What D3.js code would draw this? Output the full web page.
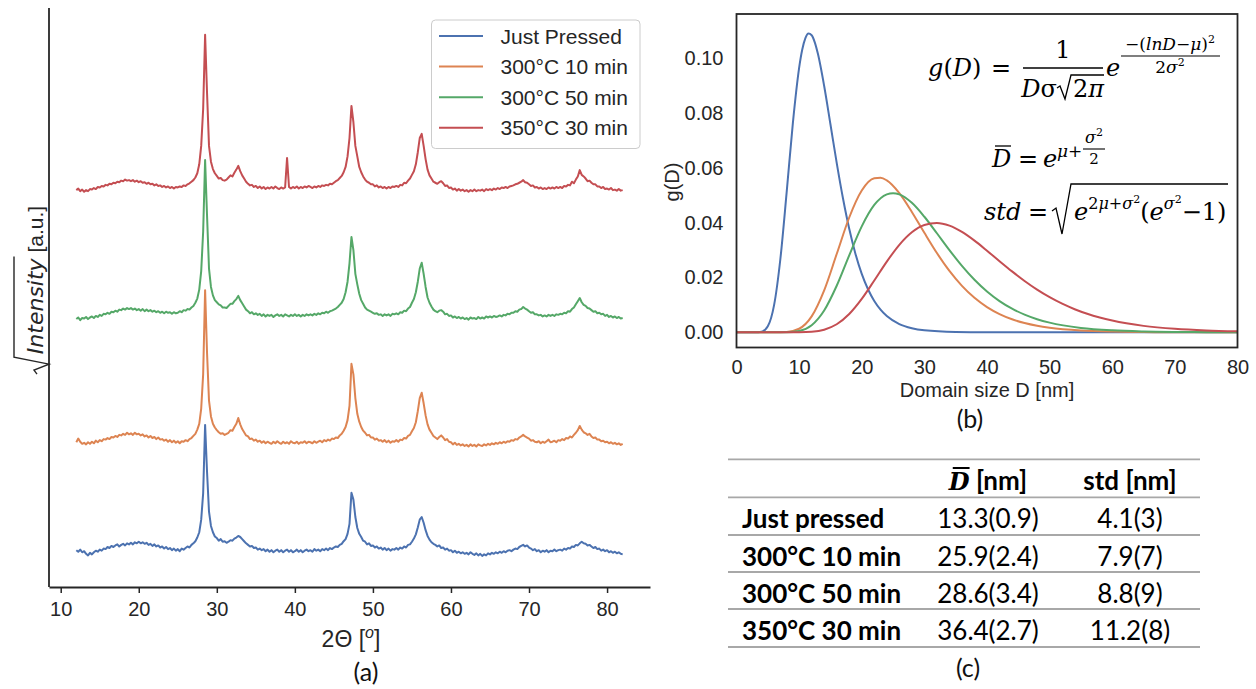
<!DOCTYPE html>
<html><head><meta charset="utf-8">
<script src="https://cdn.jsdelivr.net/npm/d3@7"></script>
<style>body{margin:0;background:#fff}svg{display:block}</style>
</head><body>
<svg id="fig" width="1256" height="689"></svg>
<script>
// ---------------- DATA ----------------
const seriesNames = ["Just Pressed", "300°C 10 min", "300°C 50 min", "350°C 30 min"];
// XRD traces: sqrt(intensity) relative to each trace's baseline, sampled from 12° to 82° every 0.25°
const thetaStart = 12, thetaStep = 0.25;
const offsets = [6.8, 27.4, 51.5, 75.8];
const xrdJustPressed = [
0.2,-0.1,0.3,-0.2, 0.0,-0.5,-0.8,-0.3, -0.6,-0.2,0.1,-0.1, 0.3,0.1,0.5,0.4, 0.8,0.6,1.0,0.8,
1.1,1.3,0.9,1.2, 1.4,1.1,1.5,1.3, 1.6,1.3,1.7,1.5, 1.8,1.5,1.7,1.4, 1.6,1.2,1.4,1.0,
1.3,0.9,1.1,0.7, 0.9,0.5,0.8,0.4, 0.6,0.2,0.5,0.1, 0.4,0.0,0.5,0.3, 0.6,0.9,0.7,1.2,
1.5,1.9,2.6,3.6, 6.0,11.0,24.0,15.0, 7.5,4.8,3.6,2.8, 2.5,2.0,2.3,1.8, 1.9,1.6,1.8,2.1,
2.0,2.4,2.6,2.9, 2.7,2.3,1.9,1.5, 1.2,0.9,1.0,0.6, 0.7,0.3,0.5,0.2, 0.4,0.0,0.3,-0.1,
0.2,-0.2,0.1,0.3, -0.1,0.2,-0.2,0.1, 0.3,-0.1,0.2,-0.2, 0.0,0.3,-0.1,0.2, -0.2,0.1,0.3,0.0,
0.2,-0.1,0.4,0.1, 0.3,0.0,0.4,0.2, 0.5,0.2,0.6,0.4, 0.7,0.9,0.8,1.2, 1.4,1.9,2.3,3.3,
5.2,11.1,9.8,6.5, 4.4,3.3,2.7,2.0, 1.8,1.3,1.5,1.0, 1.1,0.7,0.9,0.5, 0.7,0.3,0.6,0.2,
0.5,0.1,0.4,0.3, 0.6,0.3,0.7,0.5, 0.9,0.7,1.2,1.3, 1.8,2.4,3.2,4.5, 6.0,6.5,5.4,4.0,
2.9,2.2,1.7,1.4, 1.2,0.9,1.1,0.6, 0.7,0.3,0.5,0.1, 0.2,-0.2,0.1,-0.3, -0.1,-0.4,-0.2,-0.5,
-0.3,-0.6,-0.2,-0.5, -0.7,-0.4,-0.8,-0.5, -0.9,-0.6,-0.8,-0.4, -0.6,-0.3,-0.5,-0.2, -0.4,-0.1,-0.3,0.0,
-0.2,0.1,0.2,0.0, 0.3,0.5,0.4,0.8, 1.0,1.2,0.9,1.1, 0.7,0.5,0.2,0.4, 0.0,0.2,-0.2,0.1,
-0.1,0.2,-0.2,0.1, 0.0,0.3,0.0,0.2, 0.3,0.1,0.5,0.3, 0.6,0.5,0.9,0.8, 1.2,1.1,1.5,1.8,
1.5,1.4,1.1,1.2, 0.9,0.6,0.8,0.4, 0.5,0.1,0.3,0.0, 0.2,-0.2,0.0,-0.3, -0.1,-0.4,-0.2,-0.5,
-0.6];
const xrd300C10 = [
0.1,0.8,0.2,-0.2, 0.0,-0.3,0.1,-0.2, 0.2,-0.1,0.4,0.1, 0.5,0.3,0.7,0.6, 0.9,0.7,1.1,1.0,
1.3,1.1,1.5,1.4, 1.7,1.5,1.9,1.6, 1.8,1.5,1.9,1.6, 1.7,1.4,1.6,1.2, 1.4,1.0,1.3,0.9,
1.1,0.7,1.0,0.6, 0.7,0.4,0.6,0.2, 0.5,0.1,0.4,0.0, 0.3,-0.1,0.3,0.2, 0.5,0.3,0.7,0.9,
1.3,1.7,2.5,3.6, 6.5,13.0,29.0,17.0, 8.0,5.0,3.6,2.9, 2.4,2.0,1.7,1.8, 1.5,1.7,1.9,2.4,
2.3,3.0,3.6,4.7, 3.5,2.6,2.0,1.4, 1.2,0.7,0.8,0.4, 0.6,0.2,0.4,0.0, 0.3,-0.1,0.2,0.0,
-0.2,0.2,-0.1,0.3, 0.0,-0.2,0.2,-0.1, 0.1,-0.2,0.3,0.0, -0.1,0.2,-0.2,0.1, 0.0,0.3,-0.1,0.2,
0.1,-0.1,0.3,0.0, 0.2,0.4,0.1,0.5, 0.3,0.6,0.4,0.8, 0.7,1.0,0.9,1.4, 1.7,2.3,3.0,4.3,
7.0,15.0,13.0,8.5, 5.5,4.0,3.0,2.3, 1.9,1.4,1.5,1.0, 1.0,0.6,0.8,0.4, 0.5,0.2,0.5,0.1,
0.4,0.0,0.3,0.2, 0.5,0.2,0.6,0.5, 0.9,0.8,1.3,1.5, 2.2,2.8,3.9,6.0, 8.5,9.5,7.5,5.2,
3.5,2.5,1.9,1.3, 1.0,0.7,1.1,1.4, 1.0,0.5,0.7,0.2, 0.1,-0.3,0.0,-0.4, -0.2,-0.5,-0.3,-0.6,
-0.4,-0.7,-0.3,-0.6, -0.4,-0.7,-0.3,-0.5, -0.6,-0.3,-0.5,-0.2, -0.4,-0.1,-0.3,0.0, -0.2,0.1,-0.1,0.2,
0.0,0.3,0.2,0.5, 0.4,0.7,0.6,1.0, 1.2,1.5,1.2,1.0, 0.8,0.4,0.5,0.2, 0.1,0.3,-0.1,0.2,
0.0,0.3,0.6,0.1, 0.2,0.4,0.1,0.5, 0.4,0.7,0.5,0.9, 0.8,1.2,1.0,1.5, 1.9,2.4,3.2,2.5,
2.0,1.8,1.5,1.7, 1.2,0.9,1.0,0.6, 0.6,0.3,0.4,0.1, 0.2,-0.1,0.1,-0.2, 0.0,-0.3,-0.1,-0.4,
-0.2];
const xrd300C50 = [
-0.6,-0.3,-0.8,-0.4, -0.5,-0.2,-0.6,-0.3, -0.1,-0.4,0.0,-0.2, 0.2,0.0,0.4,0.3, 0.6,0.4,0.8,0.7,
1.0,0.8,1.2,1.1, 1.4,1.2,1.5,1.3, 1.5,1.2,1.4,1.1, 1.3,1.0,1.3,0.9, 1.2,0.9,1.1,0.8,
1.0,0.7,0.9,0.6, 0.8,0.5,0.8,0.6, 0.7,0.4,0.7,0.5, 0.6,0.9,0.7,1.1, 1.0,1.3,1.2,1.6,
1.9,2.5,3.3,5.0, 8.5,16.0,29.6,19.0, 9.0,5.5,3.9,3.0, 2.6,2.2,2.0,1.6, 1.6,1.5,1.9,2.3,
2.3,2.8,3.2,3.8, 3.0,2.4,1.8,1.2, 0.9,0.5,0.7,0.3, 0.5,0.2,0.4,0.0, 0.3,-0.1,0.2,0.0,
0.2,-0.2,0.1,0.3, 0.0,0.2,-0.1,0.3, 0.1,-0.1,0.2,0.0, 0.3,0.0,0.2,-0.1, 0.2,0.0,0.3,0.1,
0.3,0.1,0.4,0.2, 0.5,0.3,0.6,0.5, 0.8,0.6,0.9,1.0, 1.2,1.4,1.7,2.1, 2.5,3.2,4.5,6.5,
10.0,15.0,12.5,8.0, 6.0,4.2,3.0,2.3, 1.6,1.2,1.0,0.8, 0.6,0.4,0.5,0.2, 0.3,0.0,0.3,0.1,
0.3,0.0,0.4,0.3, 0.5,0.3,0.7,0.6, 1.0,0.9,1.4,1.7, 2.5,3.2,4.5,6.5, 9.0,10.1,8.0,5.5,
3.5,2.5,1.8,1.2, 0.9,0.7,1.0,1.1, 0.8,0.3,0.4,0.0, 0.1,-0.3,-0.1,-0.4, -0.2,-0.5,-0.3,-0.6,
-0.4,-0.7,-0.3,-0.5, -0.4,-0.6,-0.2,-0.5, -0.3,-0.5,-0.1,-0.3, -0.1,-0.3,0.0,-0.2, -0.1,0.1,-0.1,0.2,
0.1,0.4,0.3,0.6, 0.6,0.9,0.8,1.2, 1.3,1.7,1.4,1.2, 0.9,0.6,0.7,0.3, 0.3,0.1,0.2,-0.1,
0.1,-0.1,0.2,0.0, 0.2,0.0,0.3,0.2, 0.4,0.3,0.6,0.5, 0.9,0.8,1.3,1.6, 2.2,2.8,3.4,2.6,
2.1,1.9,1.5,1.4, 1.1,0.8,0.9,0.5, 0.6,0.3,0.4,0.0, 0.2,-0.2,0.0,-0.3, -0.1,-0.4,-0.2,-0.5,
-0.4];
const xrd350C30 = [
-0.4,-0.1,-0.6,-0.3, -0.7,-0.4,-0.6,-0.2, -0.3,0.0,-0.2,0.2, 0.1,0.4,0.3,0.6, 0.5,0.8,0.7,1.0,
0.9,1.2,1.1,1.4, 1.3,1.6,1.4,1.5, 1.3,1.5,1.2,1.4, 1.1,1.3,1.0,1.1, 0.8,1.0,0.7,0.8,
0.5,0.7,0.4,0.5, 0.2,0.4,0.1,0.3, 0.0,0.2,-0.1,0.2, 0.1,0.3,0.2,0.5, 0.4,0.7,0.9,1.2,
1.5,2.0,2.8,4.5, 8.0,15.0,29.1,18.0, 8.0,5.0,3.6,2.8, 2.3,1.8,1.9,1.5, 1.4,1.6,2.0,2.4,
2.2,2.9,3.5,4.2, 3.2,2.4,1.8,1.2, 0.8,0.5,0.6,0.2, 0.4,0.0,0.3,-0.1, 0.2,-0.2,0.1,-0.1,
0.2,-0.1,0.3,0.0, -0.2,0.1,-0.1,0.1, 5.7,0.2,-0.1,0.2, 0.0,0.3,-0.1,0.2, 0.0,0.3,0.1,0.4,
0.2,0.0,0.3,0.1, 0.4,0.2,0.5,0.4, 0.6,0.5,0.8,0.7, 1.0,1.3,1.5,1.9, 2.3,3.0,4.0,6.0,
9.5,15.6,12.5,8.0, 6.0,4.0,3.0,2.2, 1.6,1.2,1.0,0.7, 0.7,0.3,0.5,0.1, 0.3,0.0,0.2,-0.1,
0.2,0.0,0.3,0.2, 0.4,0.2,0.6,0.5, 1.0,0.9,1.4,1.8, 2.5,3.2,4.5,6.8, 9.5,10.3,8.0,5.5,
3.5,2.4,1.8,1.2, 1.0,0.8,1.1,1.3, 0.9,0.4,0.5,0.0, 0.1,-0.3,-0.1,-0.5, -0.2,-0.5,-0.3,-0.6,
-0.4,-0.7,-0.4,-0.6, -0.3,-0.6,-0.4,-0.5, -0.3,-0.6,-0.2,-0.4, -0.2,-0.4,-0.1,-0.3, 0.0,-0.2,0.1,0.0,
0.2,0.0,0.3,0.4, 0.5,0.7,0.8,1.0, 1.2,1.5,1.1,1.0, 0.7,0.4,0.5,0.1, 0.2,-0.1,0.1,-0.2,
0.0,-0.2,0.1,-0.1, 0.1,-0.1,0.2,0.0, 0.2,0.0,0.4,0.3, 0.6,0.5,1.2,0.9, 1.6,2.2,3.4,2.5,
2.2,1.8,1.3,1.4, 1.0,0.7,0.7,0.3, 0.3,0.0,0.2,-0.2, -0.1,-0.3,0.0,-0.4, -0.3,-0.5,-0.2,-0.5,
-0.4];
const xTicksA = [10, 20, 30, 40, 50, 60, 70, 80];

// Domain size distributions g(D)
const dJustPressed = [0, 3, 4, 5, 6, 7, 8, 9, 10, 10.5, 11, 11.5, 12, 12.5, 13, 14, 15, 16, 17, 18, 19, 20, 21, 22, 23, 24, 26, 28, 30, 35, 40, 50, 60, 80];
const gJustPressed = [0, 0.000003, 0.000211, 0.002192, 0.009911, 0.026657, 0.050841, 0.076333, 0.096472, 0.10315, 0.10730, 0.10897, 0.10835, 0.10577, 0.10157, 0.089829, 0.075885, 0.061803, 0.048881, 0.037753, 0.028606, 0.021342, 0.015723, 0.011465, 0.0082932, 0.0059572, 0.0030305, 0.0015224, 0.00075914, 0.000133, 0.00002, 0, 0, 0];
const d300C10 = [0, 6, 8, 10, 12, 14, 16, 18, 20, 22, 23, 24, 26, 28, 30, 32, 34, 36, 38, 40, 42, 44, 46, 48, 50, 55, 60, 65, 70, 80];
const g300C10 = [0, 0, 0.000127, 0.0013104, 0.0058171, 0.015318, 0.028554, 0.041884, 0.051698, 0.056168, 0.056380, 0.055417, 0.050773, 0.043909, 0.036287, 0.028921, 0.022395, 0.016944, 0.012582, 0.0092032, 0.0066503, 0.0047585, 0.0033780, 0.0023836, 0.0016733, 0.00068113, 0.00027419, 0.00011016, 0.0000444, 0.000007];
const d300C50 = [0, 6, 8, 10, 12, 14, 16, 18, 20, 22, 24, 25, 26, 28, 30, 32, 34, 36, 38, 40, 42, 44, 46, 48, 50, 55, 60, 65, 70, 75, 80];
const g300C50 = [0, 0, 0.0000393, 0.00049546, 0.0026081, 0.0079762, 0.016980, 0.028078, 0.038662, 0.046461, 0.050331, 0.050771, 0.050317, 0.047224, 0.042152, 0.036138, 0.029989, 0.024234, 0.019162, 0.014884, 0.011392, 0.0086151, 0.0064514, 0.0047918, 0.0035353, 0.0016175, 0.00072574, 0.00032261, 0.00014288, 0.0000634, 0.0000282];
const d350C30 = [0, 8, 10, 12, 14, 16, 18, 20, 22, 24, 26, 28, 30, 32, 34, 36, 38, 40, 42, 44, 46, 48, 50, 52, 54, 56, 58, 60, 65, 70, 75, 80];
const g350C30 = [0, 0, 0.0000246, 0.00021042, 0.00097100, 0.0029516, 0.0066836, 0.012188, 0.018881, 0.025795, 0.031924, 0.036505, 0.039166, 0.039882, 0.038901, 0.036611, 0.033438, 0.029779, 0.025961, 0.022225, 0.018737, 0.015587, 0.012822, 0.010446, 0.0084392, 0.0067694, 0.0053978, 0.0042801, 0.0023543, 0.0012708, 0.00067768, 0.00035900];
const xTicksB = [0, 10, 20, 30, 40, 50, 60, 70, 80];
const yTicksB = [0, 0.02, 0.04, 0.06, 0.08, 0.10];

// Table (c)
const tableRows = ["Just pressed", "300°C 10 min", "300°C 50 min", "350°C 30 min"];
const tableMeanD = ["13.3(0.9)", "25.9(2.4)", "28.6(3.4)", "36.4(2.7)"];
const tableStd = ["4.1(3)", "7.9(7)", "8.8(9)", "11.2(8)"];

// ---------------- STYLE ----------------
const colors = ["#4C72B0", "#DD8452", "#55A868", "#C44E52"];
const ink = "#262626";
const sans = "'Liberation Sans', Arial, sans-serif";
const svg = d3.select("#fig");

// ---------------- PANEL (a) ----------------
const A = {left: 49, right: 650, top: 8, bottom: 587};
const xA = d3.scaleLinear().domain([8.5, 85.5]).range([A.left, A.right]);
const yA = d3.scaleLinear().domain([0, 110]).range([A.bottom, A.top]);
const gA = svg.append("g");
[xrdJustPressed, xrd300C10, xrd300C50, xrd350C30].forEach((s, k) => {
  const ln = d3.line().x((d, i) => xA(thetaStart + i * thetaStep)).y(d => yA(d + offsets[k]));
  gA.append("path").attr("d", ln(s)).attr("fill", "none").attr("stroke", colors[k])
    .attr("stroke-width", 2).attr("stroke-linejoin", "round");
});
const axA = gA.append("g").attr("transform", `translate(0,${A.bottom})`)
  .call(d3.axisBottom(xA).tickValues(xTicksA).tickSize(6).tickSizeOuter(0).tickPadding(9));
axA.select(".domain").attr("stroke", ink).attr("stroke-width", 1.8);
axA.selectAll(".tick line").attr("stroke", ink).attr("stroke-width", 1.5);
axA.selectAll(".tick text").attr("fill", ink).attr("font-size", 20).attr("font-family", sans);
gA.append("line").attr("x1", A.left).attr("x2", A.left).attr("y1", A.top).attr("y2", A.bottom)
  .attr("stroke", ink).attr("stroke-width", 1.8);

// x label
const xl = gA.append("text").attr("x", 351).attr("y", 647).attr("text-anchor", "middle")
  .attr("font-family", sans).attr("font-size", 23).attr("fill", ink);
xl.append("tspan").text("2Θ [");
xl.append("tspan").attr("font-size", 16).attr("font-style", "italic").attr("dy", -9).text("o");
xl.append("tspan").attr("dy", 9).text("]");

// y label with radical
const yl = gA.append("g").attr("transform", "translate(43,290) rotate(-90)");
const ylt = yl.append("text").attr("fill", ink);
ylt.append("tspan").attr("font-family", "'DejaVu Sans'").attr("font-style", "oblique").attr("font-size", 22).text("Intensity");
ylt.append("tspan").attr("font-family", sans).attr("font-size", 21).text(" [a.u.]");
const yLen = ylt.node().getComputedTextLength();
const radW = 20;
const x0 = -(yLen + radW) / 2;
ylt.attr("x", x0 + radW);
const intLen = ylt.node().getSubStringLength(0, 9);
yl.append("path")
  .attr("d", `M${x0},-6 L${x0 + 4},-9 L${x0 + 10},6 L${x0 + 17},-29 L${x0 + radW + intLen + 2},-29`)
  .attr("fill", "none").attr("stroke", ink).attr("stroke-width", 1.4);

// legend
const lg = gA.append("g");
lg.append("rect").attr("x", 431.5).attr("y", 20).attr("width", 208.5).attr("height", 128.5).attr("rx", 4)
  .attr("fill", "#fff").attr("fill-opacity", 0.85).attr("stroke", "#cccccc").attr("stroke-width", 1);
seriesNames.forEach((n, k) => {
  const cy = 36 + k * 30.6;
  lg.append("line").attr("x1", 439).attr("x2", 483).attr("y1", cy).attr("y2", cy)
    .attr("stroke", colors[k]).attr("stroke-width", 2);
  lg.append("text").attr("x", 500.5).attr("y", cy + 7.5).attr("font-family", sans).attr("font-size", 21)
    .attr("fill", ink).text(n);
});

// caption (a)
svg.append("text").attr("x", 366).attr("y", 681).attr("text-anchor", "middle").attr("font-family", "Lato")
  .attr("font-size", 25).attr("fill", "#111").text("(a)");

// ---------------- PANEL (b) ----------------
const B = {left: 736.5, right: 1237.5, top: 14, bottom: 347.5};
const xB = d3.scaleLinear().domain([0, 80]).range([B.left, B.right]);
const yB = d3.scaleLinear().domain([-0.00553, 0.1161]).range([B.bottom, B.top]);
const gB = svg.append("g");
gB.append("clipPath").attr("id", "clipB").append("rect")
  .attr("x", B.left).attr("y", B.top).attr("width", B.right - B.left).attr("height", B.bottom - B.top);
const dist = [[dJustPressed, gJustPressed], [d300C10, g300C10], [d300C50, g300C50], [d350C30, g350C30]];
dist.forEach(([ds, gs], k) => {
  const ln = d3.line().x(d => xB(d[0])).y(d => yB(d[1])).curve(d3.curveMonotoneX);
  gB.append("path").attr("clip-path", "url(#clipB)").attr("d", ln(ds.map((d, i) => [d, gs[i]])))
    .attr("fill", "none").attr("stroke", colors[k]).attr("stroke-width", 2);
});
gB.append("rect").attr("x", B.left).attr("y", B.top).attr("width", B.right - B.left).attr("height", B.bottom - B.top)
  .attr("fill", "none").attr("stroke", ink).attr("stroke-width", 1.8);
const axBx = gB.append("g").attr("transform", `translate(0,${B.bottom})`)
  .call(d3.axisBottom(xB).tickValues(xTicksB).tickSize(0).tickPadding(12));
axBx.select(".domain").remove();
axBx.selectAll(".tick text").attr("fill", ink).attr("font-size", 20).attr("font-family", sans);
const axBy = gB.append("g").attr("transform", `translate(${B.left},0)`)
  .call(d3.axisLeft(yB).tickValues(yTicksB).tickFormat(d3.format(".2f")).tickSize(0).tickPadding(13));
axBy.select(".domain").remove();
axBy.selectAll(".tick text").attr("fill", ink).attr("font-size", 20).attr("font-family", sans);
gB.append("text").attr("x", 987).attr("y", 397).attr("text-anchor", "middle").attr("font-family", sans)
  .attr("font-size", 20).attr("fill", ink).text("Domain size D [nm]");
gB.append("text").attr("transform", "translate(679,182) rotate(-90)").attr("text-anchor", "middle")
  .attr("font-family", sans).attr("font-size", 20).attr("fill", ink).text("g(D)");
svg.append("text").attr("x", 970).attr("y", 428).attr("text-anchor", "middle").attr("font-family", "Lato")
  .attr("font-size", 25).attr("fill", "#111").text("(b)");

// formulas
const F = svg.append("g").attr("font-family", "'DejaVu Serif', serif").attr("fill", "#000");
function t(x, y, size, anchor) {
  return F.append("text").attr("x", x).attr("y", y).attr("font-size", size).attr("text-anchor", anchor || "start");
}
function sp(el, s, o = {}) {
  const ts = el.append("tspan").text(s);
  if (o.i) ts.attr("font-style", "italic");
  if (o.fs) ts.attr("font-size", o.fs);
  if (o.dy) ts.attr("dy", o.dy);
  return el;
}
function seg(x1, y1, x2, y2, w) {
  F.append("line").attr("x1", x1).attr("y1", y1).attr("x2", x2).attr("y2", y2).attr("stroke", "#000").attr("stroke-width", w || 1.2);
}
function path(d) { F.append("path").attr("d", d).attr("fill", "none").attr("stroke", "#000").attr("stroke-width", 1.3); }
// g(D)
const e1 = t(928, 76, 24); sp(e1, "g", {i: 1}); sp(e1, "("); sp(e1, "D", {i: 1}); sp(e1, ")");
t(991, 76, 24).text("=");
t(1063, 58, 24, "middle").text("1");
seg(1023, 68, 1103, 68, 1.3);
const d1 = t(1057, 97, 24, "end"); sp(d1, "D", {i: 1}); sp(d1, "σ");
path("M1057,88 L1060,86 L1065,99 L1071,75 L1104,75");
const d2 = t(1073, 97, 24); sp(d2, "2"); sp(d2, "π", {i: 1});
const ee = t(1106, 76, 24); sp(ee, "e", {i: 1});
const nn = t(1170, 50, 17, "middle"); sp(nn, "−("); sp(nn, "lnD", {i: 1}); sp(nn, "−"); sp(nn, "μ", {i: 1}); sp(nn, ")"); sp(nn, "2", {fs: 11, dy: -7});
seg(1121, 56, 1220, 56, 1.1);
const dn = t(1170, 73, 17, "middle"); sp(dn, "2"); sp(dn, "σ", {i: 1}); sp(dn, "2", {fs: 11, dy: -7});
// D bar
const f2 = t(992, 167, 24); sp(f2, "D", {i: 1});
seg(995, 146, 1011, 146, 1.3);
t(1018, 167, 24).text("=");
const e2 = t(1043, 167, 24); sp(e2, "e", {i: 1});
const m2 = t(1057, 157, 17); sp(m2, "μ", {i: 1}); sp(m2, "+");
const s2 = t(1094, 143, 16, "middle"); sp(s2, "σ", {i: 1}); sp(s2, "2", {fs: 11, dy: -7});
seg(1083, 149, 1105, 149, 1.1);
t(1094, 164, 15, "middle").text("2");
// std
const f3 = t(984, 220, 24); sp(f3, "std", {i: 1});
t(1028, 220, 24).text("=");
path("M1052,211 L1056,208 L1062,234 L1071,184 L1228,184");
const c3 = t(1074, 220, 24);
sp(c3, "e", {i: 1}); sp(c3, "2", {fs: 16, dy: -11}); sp(c3, "μ", {fs: 16, i: 1}); sp(c3, "+", {fs: 16}); sp(c3, "σ", {fs: 16, i: 1}); sp(c3, "2", {fs: 11, dy: -6});
sp(c3, "(", {dy: 17}); sp(c3, "e", {i: 1}); sp(c3, "σ", {fs: 16, i: 1, dy: -11}); sp(c3, "2", {fs: 11, dy: -6}); sp(c3, "−1)", {dy: 17});

// ---------------- TABLE (c) ----------------
const T = svg.append("g").attr("font-family", "Lato").attr("fill", "#000");
const ruleY = [459.3, 497.3, 535, 572, 609, 647];
ruleY.forEach(y => T.append("line").attr("x1", 728).attr("x2", 1200).attr("y1", y).attr("y2", y)
  .attr("stroke", "#a8a8a8").attr("stroke-width", 1.8));
const colMean = 988, colStd = 1130, colName = 742;
const hd = T.append("text").attr("x", colMean).attr("y", 490).attr("text-anchor", "middle").attr("font-weight", "bold").attr("font-size", 26);
hd.append("tspan").attr("font-family", "'DejaVu Serif', serif").attr("font-style", "italic").attr("font-size", 24).text("D");
hd.append("tspan").text(" [nm]");
const ext = hd.node().getExtentOfChar(0);
T.append("line").attr("x1", ext.x + 4).attr("x2", ext.x + ext.width).attr("y1", 468).attr("y2", 468)
  .attr("stroke", "#000").attr("stroke-width", 2);
T.append("text").attr("x", colStd).attr("y", 490).attr("text-anchor", "middle").attr("font-weight", "bold")
  .attr("font-size", 26).text("std [nm]");
tableRows.forEach((r, i) => {
  const y = ruleY[i + 1] + 31;
  T.append("text").attr("x", colName).attr("y", y).attr("font-weight", "bold").attr("font-size", 26).text(r);
  T.append("text").attr("x", colMean).attr("y", y).attr("text-anchor", "middle").attr("font-size", 26).text(tableMeanD[i]);
  T.append("text").attr("x", colStd).attr("y", y).attr("text-anchor", "middle").attr("font-size", 26).text(tableStd[i]);
});
svg.append("text").attr("x", 968).attr("y", 677).attr("text-anchor", "middle").attr("font-family", "Lato")
  .attr("font-size", 25).attr("fill", "#111").text("(c)");
</script>
</body></html>
